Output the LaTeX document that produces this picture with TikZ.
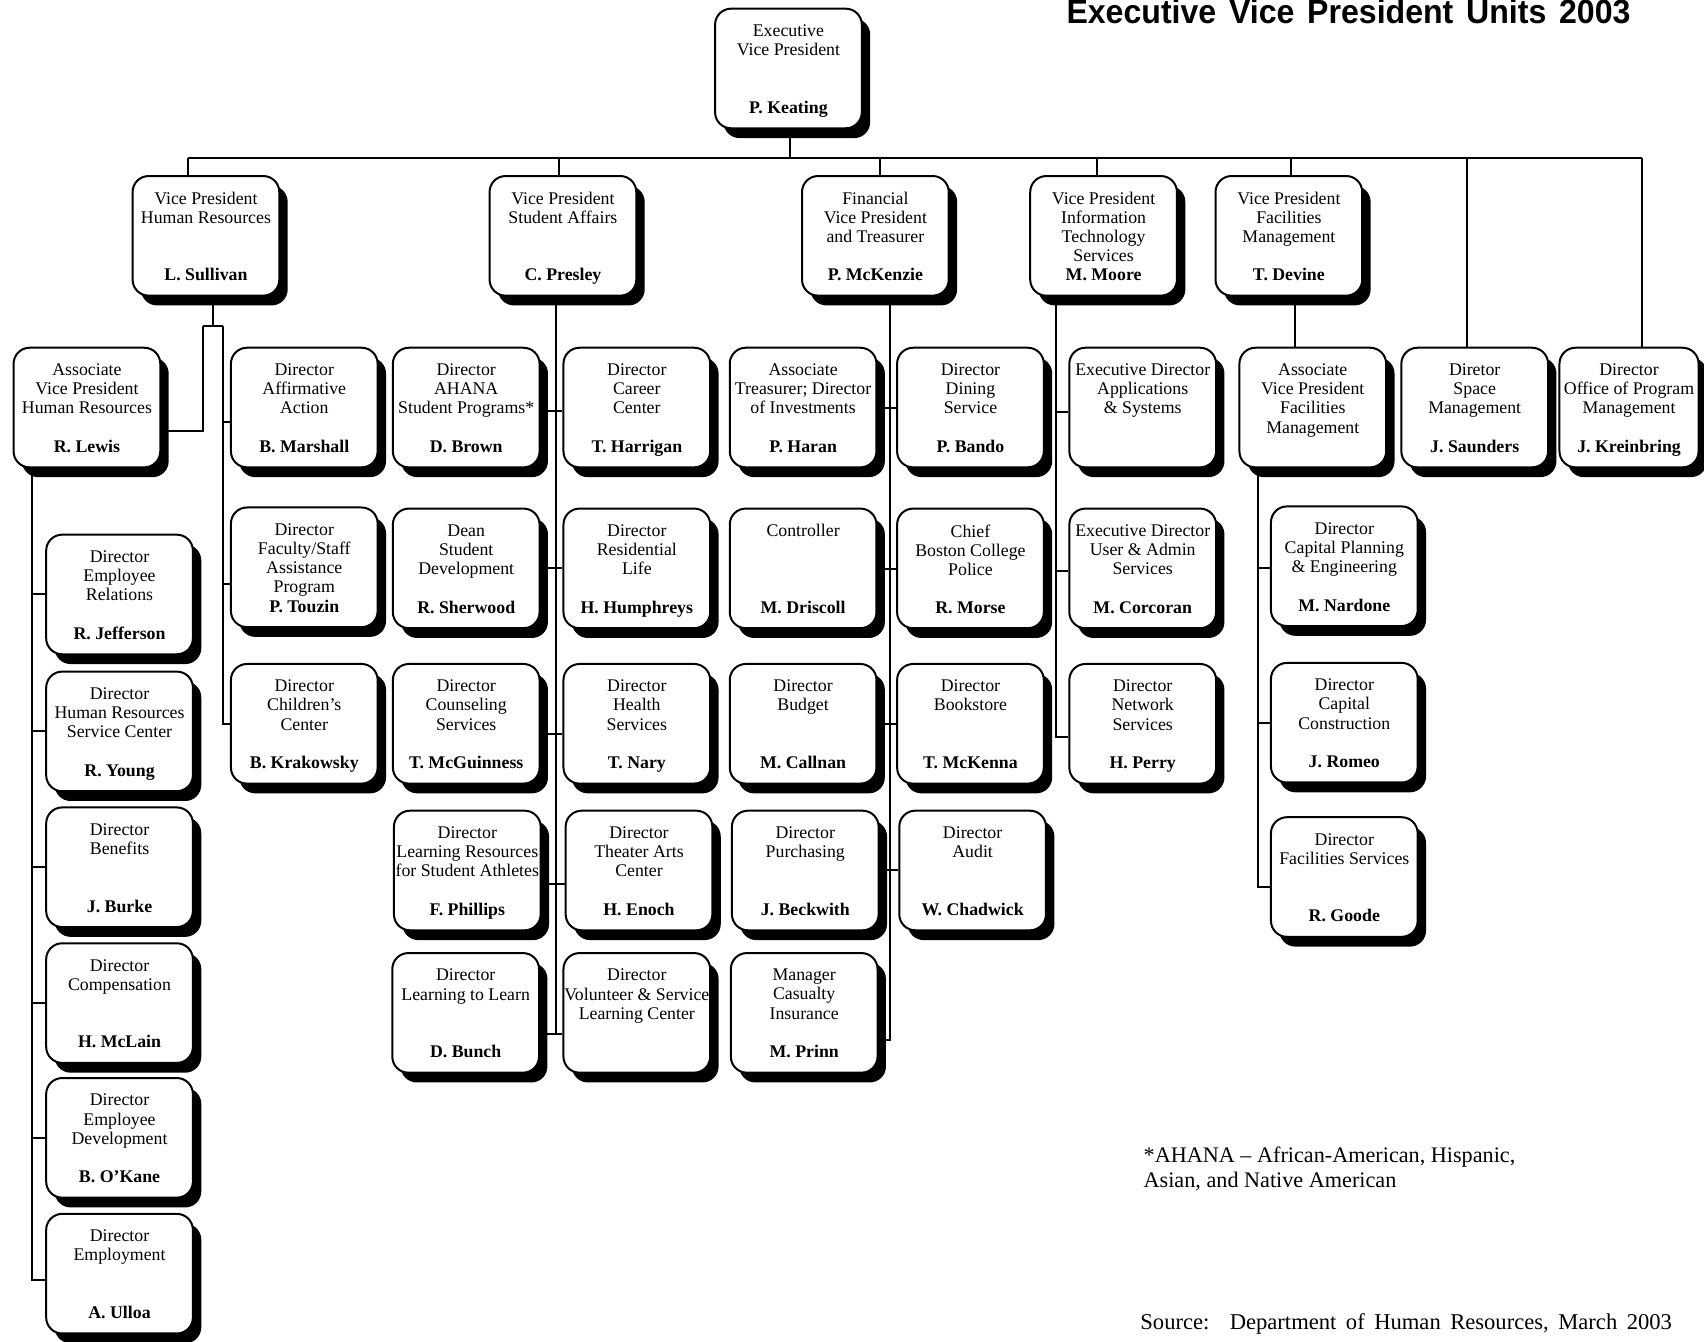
\documentclass[tikz,border=0pt]{standalone}
\usepackage{fontspec}
\usepackage{graphicx}
\setmainfont{Liberation Serif}
\newfontfamily\hdfont{Liberation Sans}
\usetikzlibrary{shadows,backgrounds}
\newcommand\orgbox[6][135]{%
  \node[obox,minimum width=#1*0.5434pt] (#2) at (#3,#4) {};
  \node[otitle] (#2t) at ([yshift=-8.3pt]#2.north) {#5};
  \node[oname] (#2n) at ([yshift=8pt]#2.south) {#6};}
\begin{document}
\begin{tikzpicture}[x=0.5434pt,y=-0.5434pt,
  obox/.style={draw,line width=1pt,fill=white,rounded corners=8pt,
    minimum height=59.8pt,inner sep=0pt,
    drop shadow={shadow xshift=4.2pt,shadow yshift=-4.9pt,fill=black,opacity=1}},
  otitle/.style={anchor=north,align=center,inner sep=0pt,font=\fontsize{8.9}{9.6}\selectfont},
  oname/.style={anchor=base,inner sep=0pt,font=\fontsize{8.9}{9.6}\selectfont\bfseries},
  conn/.style={line width=1pt},
  fn/.style={anchor=base west,inner sep=0pt,font=\fontsize{11.1}{12.5}\selectfont}]
\useasboundingbox (0,0) rectangle (1568,1234);

% ---- title and notes
\node[anchor=base west,inner sep=0pt] (head) at (981,22)
  {\resizebox{282pt}{\height}{\hdfont\bfseries\fontsize{16.8}{17}\selectfont Executive\hspace{0.12em} Vice\hspace{0.12em} President\hspace{0.12em} Units\hspace{0.12em} 2003}};
\node[fn] (fn1) at (1052,1070) {*AHANA – African-American, Hispanic,};
\node[fn] (fn2) at (1052,1093) {Asian, and Native American};
\node[fn,font=\fontsize{11.3}{12.5}\selectfont] (src) at (1049,1223)
  {Source:\hspace{0.9em}Department\hspace{0.42em}of\hspace{0.42em}Human\hspace{0.42em}Resources,\hspace{0.42em}March\hspace{0.42em}2003};

% ---- boxes
\orgbox{evp}{725.5}{63}{Executive\\Vice President}{P. Keating}
\orgbox{hr}{189.5}{217}{Vice President\\Human Resources}{L. Sullivan}
\orgbox{sa}{518}{217}{Vice President\\Student Affairs}{C. Presley}
\orgbox{fin}{805.5}{217}{Financial\\Vice President\\and Treasurer}{P. McKenzie}
\orgbox{it}{1015.5}{217}{Vice President\\Information\\Technology\\Services}{M. Moore}
\orgbox{fm}{1186}{217}{Vice President\\Facilities\\Management}{T. Devine}

\orgbox{avphr}{80}{375}{Associate\\Vice President\\Human Resources}{R. Lewis}
\orgbox{aa}{280}{375}{Director\\Affirmative\\Action}{B. Marshall}
\orgbox{ahana}{429}{375}{Director\\AHANA\\Student Programs*}{D. Brown}
\orgbox{career}{586}{375}{Director\\Career\\Center}{T. Harrigan}
\orgbox{haran}{739}{375}{Associate\\Treasurer; Director\\of Investments}{P. Haran}
\orgbox{dining}{893}{375}{Director\\Dining\\Service}{P. Bando}
\orgbox{apps}{1051.5}{375}{Executive Director\\Applications\\\& Systems}{}
\orgbox{avpfm}{1208}{375}{Associate\\Vice President\\Facilities\\Management}{}
\orgbox{space}{1357}{375}{Diretor\\Space\\Management}{J. Saunders}
\orgbox[128]{opm}{1499}{375}{Director\\Office of Program\\Management}{J. Kreinbring}

\orgbox{fsap}{280}{522}{Director\\Faculty/Staff\\Assistance\\Program}{P. Touzin}
\orgbox{dean}{429}{523}{Dean\\Student\\Development}{R. Sherwood}
\orgbox{reslife}{586}{523}{Director\\Residential\\Life}{H. Humphreys}
\orgbox{controller}{739}{523}{Controller}{M. Driscoll}
\orgbox{police}{893}{523}{Chief\\Boston College\\Police}{R. Morse}
\orgbox{useradm}{1051.5}{523}{Executive Director\\User \& Admin\\Services}{M. Corcoran}
\orgbox{capplan}{1237}{521}{Director\\Capital Planning\\\& Engineering}{M. Nardone}

\orgbox{children}{280}{666}{Director\\Children's\\Center}{B. Krakowsky}
\orgbox{counseling}{429}{666}{Director\\Counseling\\Services}{T. McGuinness}
\orgbox{health}{586}{666}{Director\\Health\\Services}{T. Nary}
\orgbox{budget}{739}{666}{Director\\Budget}{M. Callnan}
\orgbox{bookstore}{893}{666}{Director\\Bookstore}{T. McKenna}
\orgbox{network}{1051.5}{666}{Director\\Network\\Services}{H. Perry}
\orgbox{capcon}{1237}{665}{Director\\Capital\\Construction}{J. Romeo}

\orgbox{lrsa}{430}{801}{Director\\Learning Resources\\for Student Athletes}{F. Phillips}
\orgbox{theater}{588}{801}{Director\\Theater Arts\\Center}{H. Enoch}
\orgbox{purchasing}{741}{801}{Director\\Purchasing}{J. Beckwith}
\orgbox{audit}{895}{801}{Director\\Audit}{W. Chadwick}
\orgbox{facserv}{1237}{807}{Director\\Facilities Services}{R. Goode}

\orgbox{l2l}{428.5}{932}{Director\\Learning to Learn}{D. Bunch}
\orgbox{volunteer}{586}{932}{Director\\Volunteer \& Service\\Learning Center}{}
\orgbox{casualty}{740}{932}{Manager\\Casualty\\Insurance}{M. Prinn}

\orgbox{emprel}{110}{547}{Director\\Employee\\Relations}{R. Jefferson}
\orgbox{hrsc}{110}{673}{Director\\Human Resources\\Service Center}{R. Young}
\orgbox{benefits}{110}{798}{Director\\Benefits}{J. Burke}
\orgbox{comp}{110}{923}{Director\\Compensation}{H. McLain}
\orgbox{empdev}{110}{1047}{Director\\Employee\\Development}{B. O'Kane}
\orgbox{employment}{110}{1172}{Director\\Employment}{A. Ulloa}

% ---- connectors
\begin{scope}[on background layer,every path/.style={conn}]
  % top bus
  \coordinate (evpX) at (727,145);
  \draw (evpX |- evp.south) -- (evpX);
  \coordinate (busL) at (173,145);
  \coordinate (busR) at (1511,145);
  \draw (busL) -- (busR);
  \draw (busL) -- (busL |- hr.north);
  \coordinate (saX) at (514,145);   \draw (saX) -- (saX |- sa.north);
  \coordinate (finX) at (810,145);  \draw (finX) -- (finX |- fin.north);
  \coordinate (itX) at (1009,145);  \draw (itX) -- (itX |- it.north);
  \coordinate (fmX) at (1188,145);  \draw (fmX) -- (fmX |- fm.north);
  \coordinate (spX) at (1350,145);  \draw (spX) -- (spX |- space.north);
  \draw (busR) -- (busR |- opm.north);

  % Human Resources
  \coordinate (hrJ) at (196,300);
  \coordinate (hrL) at (187,300);
  \coordinate (hrR) at (205,300);
  \draw (hrJ |- hr.south) -- (hrJ);
  \draw (hrL) -- (hrR);
  \draw (hrL) |- (avphr.east |- 0,397);
  \draw (hrR) |- (children.west);
  \draw (hrR |- 0,388) -- (aa.west |- 0,388);
  \draw (hrR |- 0,537) -- (fsap.west |- 0,537);
  \coordinate (hB) at (29,1178);
  \draw (hB |- avphr.south) -- (hB) -- (employment.west |- hB);
  \foreach \n in {emprel,hrsc,benefits,comp,empdev}
    \draw (hB |- \n.west) -- (\n.west);

  % Student Affairs
  \coordinate (pB) at (512,951);
  \draw (pB |- sa.south) -- (pB);
  \draw (l2l.east |- pB) -- (volunteer.west |- pB);
  \draw (ahana.east |- 0,378) -- (career.west |- 0,378);
  \draw (dean.east |- 0,523) -- (reslife.west |- 0,523);
  \draw (counseling.east |- 0,675) -- (health.west |- 0,675);
  \draw (lrsa.east |- 0,813) -- (theater.west |- 0,813);

  % Finance
  \coordinate (mB) at (819,957);
  \draw (mB |- fin.south) -- (mB) -- (casualty.east |- mB);
  \draw (haran.east |- 0,375) -- (dining.west |- 0,375);
  \draw (controller.east |- 0,524) -- (police.west |- 0,524);
  \draw (budget.east |- 0,666) -- (bookstore.west |- 0,666);
  \draw (purchasing.east |- 0,801) -- (audit.west |- 0,801);

  % Information Technology
  \coordinate (oB) at (972,678);
  \draw (oB |- it.south) -- (oB) -- (network.west |- oB);
  \draw (oB |- 0,379) -- (apps.west |- 0,379);
  \draw (oB |- 0,525) -- (useradm.west |- 0,525);

  % Facilities
  \coordinate (dX) at (1192,0);
  \draw (dX |- fm.south) -- (dX |- avpfm.north);
  \coordinate (fB) at (1158,816);
  \draw (fB |- avpfm.south) -- (fB) -- (facserv.west |- fB);
  \draw (fB |- 0,523) -- (capplan.west |- 0,523);
  \draw (fB |- 0,665) -- (capcon.west |- 0,665);
\end{scope}
\end{tikzpicture}
\end{document}
